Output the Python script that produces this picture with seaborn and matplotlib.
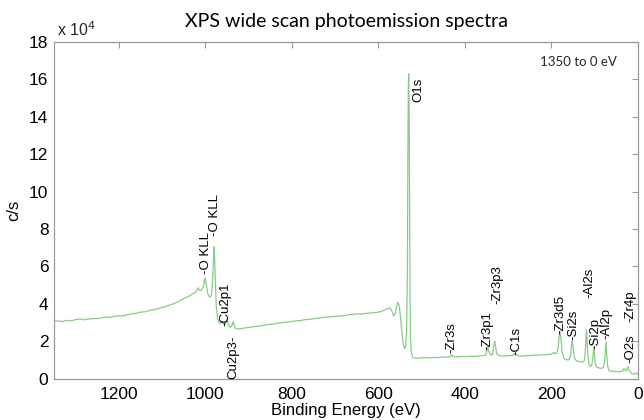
import matplotlib
matplotlib.use("Agg")
import matplotlib.pyplot as plt
import seaborn as sns
import pandas as pd

# ---- data (counts in units of 10^4 c/s) ----
binding_energy = [
    1350, 1340, 1330, 1320, 1310, 1300, 1290, 1280, 1270, 1260, 1250, 1240, 1230, 1220,
    1210, 1200, 1190, 1180, 1170, 1160, 1150, 1140, 1130, 1120, 1110, 1100, 1090, 1080,
    1070, 1060, 1050, 1040, 1030, 1022, 1017, 1013, 1008, 1004, 1001, 998, 994, 990, 986,
    983, 981, 980, 979, 977, 975, 972, 969, 965, 962, 958, 955, 952, 950, 948, 945, 942,
    939, 936, 934, 931, 927, 920, 910, 900, 890, 880, 870, 860, 850, 840, 830, 820, 810,
    800, 790, 780, 770, 760, 750, 740, 730, 720, 710, 700, 690, 680, 670, 660, 650, 640,
    630, 620, 610, 600, 592, 585, 578, 573, 569, 565, 561, 558, 555, 552, 549, 546, 543,
    540, 537, 535, 533, 532, 531, 530, 529, 528, 527, 526, 524, 521, 518, 510, 500, 490,
    480, 470, 460, 450, 440, 434, 431, 428, 420, 410, 400, 390, 380, 370, 360, 352, 349,
    347, 345, 340, 336, 333, 331, 329, 326, 320, 310, 300, 290, 285, 282, 278, 270, 260,
    250, 240, 230, 220, 210, 200, 195, 192, 188, 185, 182, 180, 178, 176, 173, 170, 165,
    160, 156, 154, 152, 150, 147, 143, 138, 133, 128, 124, 122, 120, 119, 118, 116, 113,
    110, 107, 104, 102, 101, 99, 96, 92, 88, 84, 80, 77, 75, 74, 73, 71, 68, 64, 58, 52,
    46, 40, 35, 32, 30, 27, 25, 23, 21, 18, 14, 10, 6, 3, 0,
]
counts_1e4 = [
    3.10, 3.07, 3.05, 3.11, 3.09, 3.15, 3.19, 3.14, 3.18, 3.21, 3.20, 3.25, 3.28, 3.27,
    3.33, 3.36, 3.35, 3.42, 3.46, 3.49, 3.55, 3.57, 3.63, 3.68, 3.73, 3.80, 3.87, 3.95,
    4.04, 4.15, 4.28, 4.39, 4.52, 4.62, 4.85, 4.70, 4.75, 5.00, 5.40, 5.00, 4.50, 4.35, 4.45,
    5.40, 6.60, 7.05, 6.60, 5.20, 3.90, 3.20, 3.00, 2.95, 3.05, 2.90, 2.85, 3.00, 3.20, 2.95,
    2.78, 2.75, 2.80, 3.05, 2.90, 2.70, 2.65, 2.66, 2.70, 2.73, 2.77, 2.80, 2.82, 2.87, 2.90,
    2.92, 2.97, 3.00, 3.02, 3.05, 3.09, 3.10, 3.15, 3.16, 3.20, 3.22, 3.27, 3.28, 3.30,
    3.33, 3.34, 3.36, 3.41, 3.42, 3.46, 3.44, 3.48, 3.50, 3.52, 3.55, 3.60, 3.68, 3.75,
    3.78, 3.60, 3.35, 3.50, 3.85, 4.08, 3.90, 3.30, 2.50, 1.90, 1.60, 1.70, 2.50, 6.00,
    12.0, 15.5, 16.3, 14.0, 9.00, 4.50, 2.20, 1.40, 1.15, 1.10, 1.08, 1.10, 1.12, 1.10,
    1.13, 1.12, 1.15, 1.14, 1.18, 1.28, 1.17, 1.16, 1.18, 1.17, 1.19, 1.18, 1.20, 1.22,
    1.25, 1.55, 1.70, 1.45, 1.25, 1.30, 1.85, 2.00, 1.65, 1.30, 1.22, 1.20, 1.22, 1.23,
    1.35, 1.30, 1.22, 1.20, 1.22, 1.23, 1.24, 1.25, 1.27, 1.28, 1.30, 1.40, 1.32, 1.35,
    1.60, 2.30, 2.50, 2.10, 1.50, 1.20, 1.05, 1.00, 1.00, 1.20, 1.80, 2.02, 1.60, 1.10,
    0.95, 0.92, 0.90, 0.88, 0.95, 1.40, 2.30, 2.59, 2.20, 1.20, 0.75, 0.65, 0.70, 1.20,
    1.68, 1.40, 0.80, 0.62, 0.58, 0.55, 0.55, 0.58, 1.00, 1.70, 1.96, 1.60, 0.80, 0.45,
    0.40, 0.38, 0.38, 0.36, 0.37, 0.42, 0.55, 0.45, 0.40, 0.55, 0.63, 0.45, 0.35, 0.25,
    0.22, 0.30, 0.28, 0.20,
]

peak_labels = ["-O KLL", "-O KLL", "-Cu2p1", "Cu2p3-", "O1s", "-Zr3s", "-Zr3p1", "-Zr3p3",
               "-C1s", "-Zr3d5", "-Si2s", "-Al2s", "-Si2p", "-Al2p", "-O2s", "-Zr4p"]
label_energy = [999, 978, 955, 936, 508, 431, 349, 326, 282, 180, 150, 113, 99, 72, 18, 17]
label_height = [5.6, 7.6, 2.8, 2.3, 14.8, 1.35, 1.5, 4.0, 1.25, 2.4, 2.05, 4.3, 1.6, 2.1, 0.83, 3.0]

x_ticks = [1200, 1000, 800, 600, 400, 200, 0]
y_ticks = [0, 2, 4, 6, 8, 10, 12, 14, 16, 18]

# ---- plot ----
sns.set_theme(style="white")
plt.rcParams["font.family"] = ["Liberation Sans", "DejaVu Sans"]

fig = plt.figure(figsize=(6.44, 4.2), dpi=100)
ax = fig.add_axes([0.0839, 0.0988, 0.9068, 0.8012])

df = pd.DataFrame({"be": binding_energy, "cps": counts_1e4})
sns.lineplot(data=df, x="be", y="cps", ax=ax, color="#88cc88", linewidth=0.9,
             estimator=None, sort=False)

ax.set_xlim(1350, 0)
ax.set_ylim(0, 18)
ax.set_xticks(x_ticks)
ax.set_yticks(y_ticks)
ax.set_xticklabels([str(t) for t in x_ticks])
ax.set_yticklabels([str(t) for t in y_ticks])
ax.tick_params(direction="in", length=4, width=0.8, top=True, right=True,
               labeltop=False, labelright=False, color="#9a9a9a",
               labelsize=12.5, labelcolor="black")
ax.tick_params(axis="x", pad=6)
ax.tick_params(axis="y", pad=4)
for s in ax.spines.values():
    s.set_color("#9a9a9a")
    s.set_linewidth(0.9)

ax.set_xlabel("Binding Energy (eV)", fontsize=12, labelpad=1, color="black")
ax.set_ylabel("c/s", fontsize=12, labelpad=6, color="black")
ax.set_title("XPS wide scan photoemission spectra", fontsize=14, family="Lato",
             pad=11, color="black")

ax.annotate("x 10$^{4}$", xy=(0, 1), xycoords="axes fraction", xytext=(2, 4),
            textcoords="offset points", ha="left", va="baseline", fontsize=11.5)
ax.text(0.963, 0.94, "1350 to 0 eV", transform=ax.transAxes, ha="right", va="center",
        fontsize=9.5, family="Lato")

for lab, e, h in zip(peak_labels, label_energy, label_height):
    va = "top" if lab.endswith("-") else "bottom"
    ax.text(e, h, lab, rotation=90, ha="center", va=va, fontsize=9.5,
            clip_on=False, color="black")

fig.savefig("out.png", dpi=100)
